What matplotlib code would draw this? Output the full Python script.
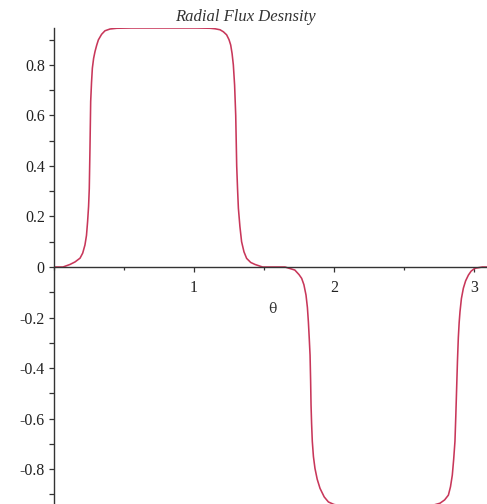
import matplotlib
matplotlib.use("Agg")
import matplotlib.pyplot as plt
from matplotlib.ticker import FixedLocator, MultipleLocator

# Radial flux density B(theta) over one pole pitch pair
theta = [
    0.0, 0.064, 0.114, 0.150, 0.186, 0.205, 0.221, 0.232, 0.240, 0.247,
    0.252, 0.257, 0.262, 0.268, 0.274, 0.283, 0.293, 0.305, 0.317, 0.340,
    0.364, 0.400, 0.448, 0.550, 0.785, 1.020, 1.114, 1.150, 1.186, 1.210,
    1.233, 1.250, 1.262, 1.272, 1.281, 1.290, 1.298, 1.305, 1.311, 1.317,
    1.328, 1.340, 1.357, 1.376, 1.405, 1.436, 1.490, 1.571,
    1.650, 1.720, 1.750, 1.769, 1.785, 1.800, 1.810, 1.817, 1.823, 1.829,
    1.833, 1.836, 1.840, 1.845, 1.853, 1.864, 1.880, 1.900, 1.930, 1.960,
    2.000, 2.050, 2.150, 2.360, 2.600, 2.700, 2.757, 2.790, 2.817, 2.832,
    2.845, 2.855, 2.864, 2.870, 2.876, 2.882, 2.888, 2.894, 2.900, 2.910,
    2.924, 2.940, 2.960, 2.980, 3.007, 3.060, 3.1416,
]
flux = [
    0.0, 0.0, 0.010, 0.020, 0.035, 0.055, 0.087, 0.125, 0.180, 0.240,
    0.310, 0.470, 0.655, 0.730, 0.787, 0.826, 0.853, 0.878, 0.899, 0.921,
    0.935, 0.942, 0.945, 0.946, 0.946, 0.946, 0.945, 0.943, 0.939, 0.931,
    0.919, 0.900, 0.879, 0.845, 0.800, 0.720, 0.600, 0.400, 0.310, 0.233,
    0.160, 0.100, 0.060, 0.034, 0.018, 0.010, 0.0, 0.0,
    0.0, -0.012, -0.030, -0.045, -0.070, -0.111, -0.160, -0.217, -0.280, -0.349,
    -0.450, -0.547, -0.620, -0.690, -0.750, -0.797, -0.840, -0.876, -0.910, -0.930,
    -0.940, -0.945, -0.946, -0.946, -0.946, -0.944, -0.935, -0.922, -0.903, -0.870,
    -0.824, -0.760, -0.690, -0.590, -0.480, -0.370, -0.280, -0.220, -0.177, -0.125,
    -0.084, -0.055, -0.032, -0.016, -0.005, 0.0, 0.0,
]

x_major = [1, 2, 3]
x_labels = ["1", "2", "3"]
y_major = [-0.8, -0.6, -0.4, -0.2, 0.0, 0.2, 0.4, 0.6, 0.8]
y_labels = ["-0.8", "-0.6", "-0.4", "-0.2", "0", "0.2", "0.4", "0.6", "0.8"]

plt.rcParams["font.family"] = ["Liberation Serif", "DejaVu Serif"]

W, H = 487, 504
fig = plt.figure(figsize=(W / 100, H / 100), dpi=100)
fig.patch.set_facecolor("white")

# axes box in pixel terms: y-axis at x=54, 140 px per radian, 0 at y=267
left = 54 / W
width = (140 * 3.1416) / W
top_px, bot_px = 28, 506
ax = fig.add_axes([left, (H - bot_px) / H, width, (bot_px - top_px) / H])
ax.set_xlim(0, 3.1416)
ax.set_ylim(-0.946, 0.946)

ax.plot(theta, flux, color="#c8375a", lw=1.15, solid_joinstyle="round")

axis_col = "#333333"
for s in ("top", "right"):
    ax.spines[s].set_visible(False)
ax.spines["left"].set_position(("data", 0))
ax.spines["bottom"].set_position(("data", 0))
for s in ("left", "bottom"):
    ax.spines[s].set_color(axis_col)
    ax.spines[s].set_linewidth(1.0)

ax.xaxis.set_major_locator(FixedLocator(x_major))
ax.set_xticklabels(x_labels)
ax.xaxis.set_minor_locator(MultipleLocator(0.5))
ax.yaxis.set_major_locator(FixedLocator(y_major))
ax.set_yticklabels(y_labels)
ax.yaxis.set_minor_locator(MultipleLocator(0.1))

ax.tick_params(axis="x", which="major", direction="out", length=3.6, width=0.9,
               color=axis_col, labelsize=11.5, labelcolor="#222222", pad=6)
ax.tick_params(axis="x", which="minor", direction="out", length=2.4, width=0.9,
               color=axis_col)
ax.tick_params(axis="y", which="major", direction="out", length=3.6, width=0.9,
               color=axis_col, labelsize=11.5, labelcolor="#222222", pad=3)
ax.tick_params(axis="y", which="minor", direction="out", length=3.6, width=0.9,
               color=axis_col)

ax.text(1.563, -0.165, "θ", ha="center", va="center", fontsize=10,
        color="#333333", family=["DejaVu Serif"])

fig.text(245 / W, 1 - 17 / H, "Radial Flux Desnsity", ha="center", va="center",
         fontsize=12, style="italic", color="#333333")

fig.savefig("out.png", dpi=100, facecolor="white")
